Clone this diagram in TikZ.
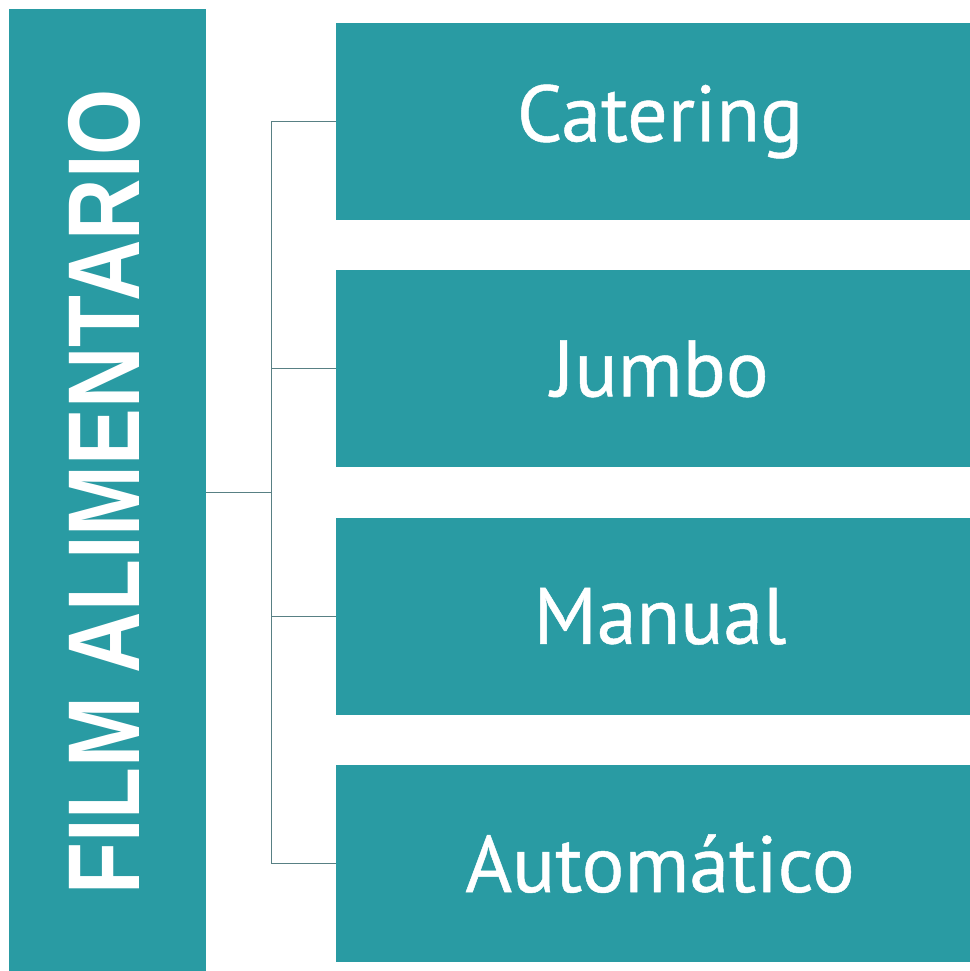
\documentclass[tikz,border=0pt]{standalone}
\usepackage{fontspec}
\setmainfont[FakeBold=0.6]{PT Sans}
\newfontfamily\barfont{Liberation Sans}
\usetikzlibrary{positioning}
\definecolor{filmteal}{RGB}{41,155,163}
\definecolor{linkgray}{RGB}{88,128,132}
\begin{document}
\begin{tikzpicture}[x=1pt,y=-1pt]
    \tikzset{bar/.style={fill=filmteal,text=white,minimum width=197pt,minimum
        height=962pt,inner sep=0pt},item/.style={bar,minimum width=648pt,minimum
        height=197pt,font=\fontsize{80}{90}\selectfont},link/.style={draw=linkgray,line width=0.9pt}}
    \useasboundingbox (0,0) rectangle (969,971);

    \node[bar] (film) at (107.5,490) {};
    \node[rotate=90,text=white,inner sep=0pt] (title) at (104,492)
      {\scalebox{1}[1.2]{\barfont\bfseries\fontsize{85}{90}\selectfont FILM ALIMENTARIO}};

    \node[item] (cat) at (660,121.5) {Catering};
    \node[item] (jum) [below=50pt of cat] {Jumbo};
    \node[item] (man) [below=50pt of jum] {Manual};
    \node[item] (aut) [below=50pt of man] {Automático};

    \coordinate (hub) at (271,492);
    \draw[link] (film.east |- hub) -- (hub);
    \foreach \n in {cat,jum,man,aut}
      \draw[link] (hub) |- (\n.west);
  \end{tikzpicture}
\end{document}
